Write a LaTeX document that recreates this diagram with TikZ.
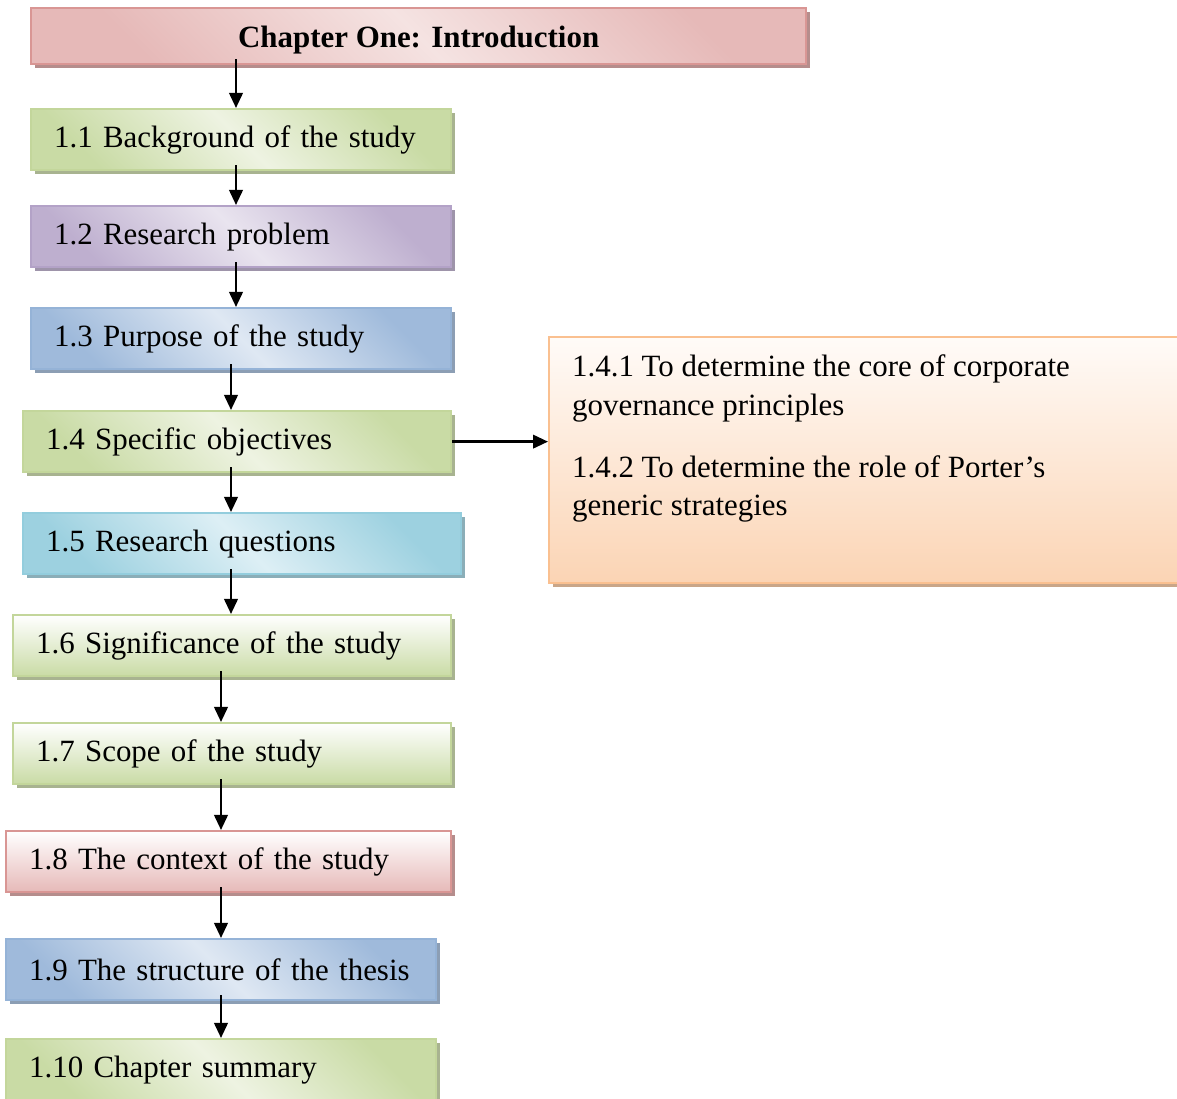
\documentclass[tikz,border=0pt]{standalone}
\usepackage{fontspec}
\setmainfont{Liberation Serif}
\usetikzlibrary{arrows.meta,shadows}

\definecolor{redB}{HTML}{D99694}
\definecolor{redD}{HTML}{E6B9B8}
\definecolor{redL}{HTML}{F5E3E2}
\definecolor{grnB}{HTML}{C3D69B}
\definecolor{grnD}{HTML}{C9DBA5}
\definecolor{grnL}{HTML}{EEF3E2}
\definecolor{purB}{HTML}{B3A2C7}
\definecolor{purD}{HTML}{BEAFCF}
\definecolor{purL}{HTML}{E9E4EF}
\definecolor{bluB}{HTML}{95B3D7}
\definecolor{bluD}{HTML}{9FBADB}
\definecolor{bluL}{HTML}{DFE8F3}
\definecolor{aquB}{HTML}{93CDDD}
\definecolor{aquD}{HTML}{9DD1E0}
\definecolor{aquL}{HTML}{DDEFF5}
\definecolor{orgB}{HTML}{FAC090}
\definecolor{orgD}{HTML}{FBD4B4}
\definecolor{orgL}{HTML}{FFFBF8}

\begin{document}
\begin{tikzpicture}[line width=1.3pt,
  stage/.style={draw=#1, line width=1.3pt, anchor=north west, minimum height=1.22cm,
    inner xsep=0.46cm, align=left, font=\fontsize{17.6}{22}\selectfont,
    drop shadow={shadow xshift=0.08cm, shadow yshift=-0.08cm, opacity=1, fill=#1!60!gray}},
  diag/.style 2 args={top color=#1, bottom color=#1, middle color=#2, shading angle=135},
  vert/.style 2 args={top color=#2, bottom color=#1},
  arr/.style={-{Triangle[length=0.3cm,width=0.27cm]}}]

\useasboundingbox (0,0) rectangle (23.54,-21.98);

\node[stage=redB, diag={redD}{redL}, minimum width=15.5cm, minimum height=1.12cm, align=center,
  text height=0.58cm, text depth=0.14cm,
  font=\fontsize{17.6}{22}\selectfont\bfseries] (ch) at (0.60,-0.14) {Chapter One: Introduction};
\node[stage=grnB, diag={grnD}{grnL}, text width=7.48cm] (s11) at (0.60,-2.16) {1.1 Background of the study};
\node[stage=purB, diag={purD}{purL}, text width=7.48cm] (s12) at (0.60,-4.10) {1.2 Research problem};
\node[stage=bluB, diag={bluD}{bluL}, text width=7.48cm] (s13) at (0.60,-6.14) {1.3 Purpose of the study};
\node[stage=grnB, diag={grnD}{grnL}, text width=7.64cm] (s14) at (0.44,-8.20) {1.4 Specific objectives};
\node[stage=aquB, diag={aquD}{aquL}, text width=7.84cm] (s15) at (0.44,-10.24) {1.5 Research questions};
\node[stage=grnB, vert={grnD}{white}, text width=7.84cm] (s16) at (0.24,-12.28) {1.6 Significance of the study};
\node[stage=grnB, vert={grnD}{white}, text width=7.84cm] (s17) at (0.24,-14.44) {1.7 Scope of the study};
\node[stage=redB, vert={redD}{white}, text width=7.98cm] (s18) at (0.10,-16.60) {1.8 The context of the study};
\node[stage=bluB, diag={bluD}{bluL}, text width=7.68cm] (s19) at (0.10,-18.76) {1.9 The structure of the thesis};
\node[stage=grnB, diag={grnD}{grnL}, text width=7.68cm] (s110) at (0.10,-20.76) {1.10 Chapter summary};

\node[stage=orgB, vert={orgD}{orgL}, inner ysep=0.36cm, minimum width=12.64cm] (obj) at (10.96,-6.72)
  {\parbox[t][4.2cm][t]{11.72cm}{\raggedright
    1.4.1 To determine the core of corporate\\
    governance principles\\[13pt]
    1.4.2 To determine the role of Porter’s\\
    generic strategies}};

\coordinate (c1) at (4.72,0);
\coordinate (c2) at (4.62,0);
\coordinate (c3) at (4.42,0);
\foreach \a/\b/\c in {ch/s11/c1, s11/s12/c1, s12/s13/c1, s13/s14/c2, s14/s15/c2,
    s15/s16/c2, s16/s17/c3, s17/s18/c3, s18/s19/c3, s19/s110/c3}
  \draw[arr] ([yshift=0.12cm]\a.south -| \c) -- (\b.north -| \c);
\draw[arr] (s14.east) -- (s14.east -| obj.west);

\end{tikzpicture}
\end{document}
